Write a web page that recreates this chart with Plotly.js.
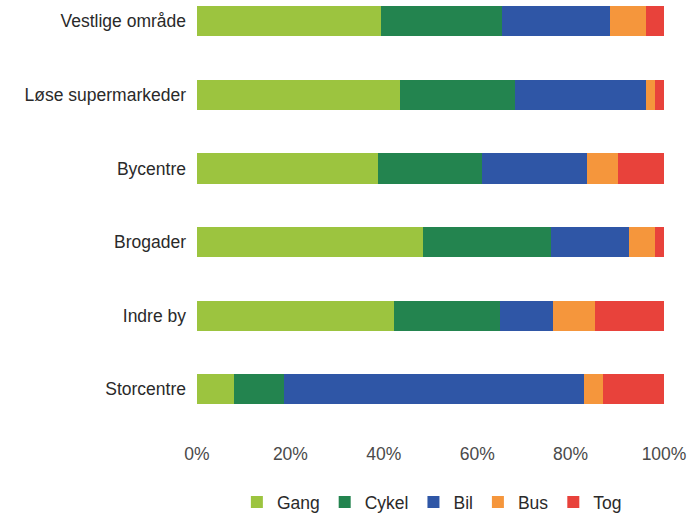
<!DOCTYPE html>
<html>
<head>
<meta charset="utf-8">
<script src="https://cdn.plot.ly/plotly-3.0.1.min.js"></script>
<style>html,body{margin:0;padding:0;background:#fff;}#chart{width:691px;height:515px;}</style>
</head>
<body>
<div id="chart"></div>
<script>
var categories = ["Vestlige område", "Løse supermarkeder", "Bycentre", "Brogader", "Indre by", "Storcentre"];
var gang  = [39.4, 43.5, 38.7, 48.3, 42.2, 7.9];
var cykel = [25.9, 24.5, 22.3, 27.4, 22.6, 10.8];
var bil   = [23.2, 28.2, 22.5, 16.8, 11.4, 64.1];
var bus   = [7.7, 1.8, 6.7, 5.5, 9.1, 4.2];
var tog   = [3.8, 2.0, 9.8, 2.0, 14.7, 13.0];
var seriesNames = ["Gang", "Cykel", "Bil", "Bus", "Tog"];
var seriesValues = [gang, cykel, bil, bus, tog];
var colors = ["#9cc43f", "#23844f", "#2f56a6", "#f5963c", "#e8423b"];
var tickVals = [0, 20, 40, 60, 80, 100];
var tickText = ["0%", "20%", "40%", "60%", "80%", "100%"];

var traces = seriesNames.map(function (n, k) {
  return {
    type: "bar", orientation: "h", name: n,
    x: seriesValues[k], y: categories,
    marker: {color: colors[k], line: {width: 0}},
    width: 0.41, hoverinfo: "x+name"
  };
});

var layout = {
  width: 691, height: 515,
  margin: {l: 197, r: 27, t: 0, b: 75},
  barmode: "stack",
  paper_bgcolor: "#fff", plot_bgcolor: "#fff",
  font: {family: "Liberation Sans, Arial, sans-serif", color: "#333"},
  xaxis: {
    range: [0, 100], tickvals: tickVals, ticktext: tickText,
    showgrid: false, zeroline: false, showline: false,
    ticks: "", tickfont: {size: 17.5, color: "#4a4a4a"}, ticklabelstandoff: 1, fixedrange: true
  },
  yaxis: {
    type: "category", categoryorder: "array", categoryarray: categories,
    range: [5.69, -0.29], showgrid: false, zeroline: false, showline: false,
    ticks: "", tickfont: {size: 17.5, color: "#2a2a2a"}, ticklabelstandoff: 10, fixedrange: true
  },
  showlegend: true,
  legend: {
    orientation: "h", xref: "container", yref: "container",
    x: 0.625, xanchor: "center", y: 0.025, yanchor: "middle",
    font: {size: 17.5, color: "#2a2a2a"}, traceorder: "normal",
    itemwidth: 30, tracegroupgap: 0
  }
};

Plotly.newPlot("chart", traces, layout, {displayModeBar: false, staticPlot: true});
</script>
</body>
</html>
